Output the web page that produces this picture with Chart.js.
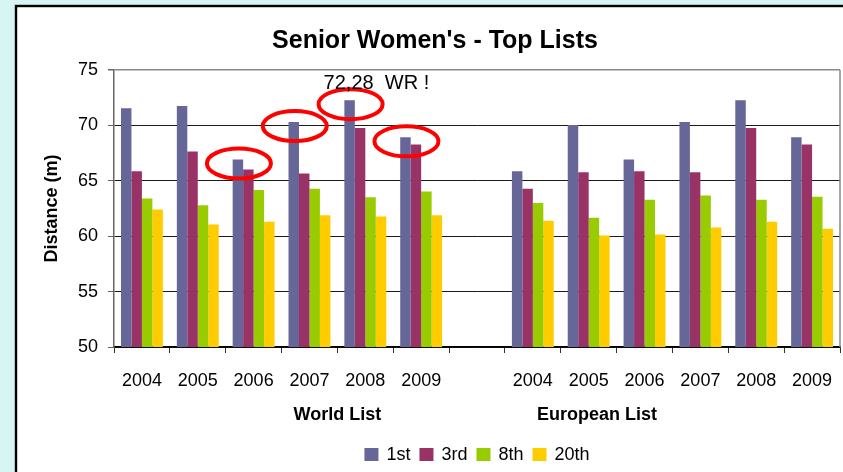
<!DOCTYPE html>
<html>
<head>
<meta charset="utf-8">
<script src="https://cdn.jsdelivr.net/npm/chart.js@4"></script>
<style>
  html, body { margin: 0; padding: 0; background: #d6f5f3; }
  canvas { display: block; }
</style>
</head>
<body>
<canvas id="chart" width="843" height="472"></canvas>
<script>
// years on the axis, blank slot splits the two lists
const labels = ['2004', '2005', '2006', '2007', '2008', '2009', '',
                '2004', '2005', '2006', '2007', '2008', '2009'];

// distances in metres (world list, gap, european list)
const first     = [71.54, 71.75, 66.92, 70.30, 72.28, 68.92, null, 65.87, 70.03, 66.92, 70.30, 72.28, 68.92];
const third     = [65.87, 67.65, 66.02, 65.66, 69.76, 68.28, null, 64.28, 65.78, 65.87, 65.78, 69.76, 68.28];
const eighth    = [63.40, 62.80, 64.16, 64.28, 63.52, 64.04, null, 63.00, 61.66, 63.29, 63.68, 63.29, 63.56];
const twentieth = [62.41, 61.06, 61.30, 61.90, 61.78, 61.90, null, 61.40, 60.06, 60.15, 60.79, 61.30, 60.67];

const seriesNames = ['1st', '3rd', '8th', '20th'];
const groupNames = ['World List', 'European List'];
const yTicks = [50, 55, 60, 65, 70, 75];

const colors = ['#666699', '#993366', '#99cc00', '#ffcc00'];
const FONT = '"Liberation Sans", Arial, sans-serif';

// panel, title, group labels, legend, red circles
const decor = {
  id: 'decor',
  beforeDraw(chart) {
    const ctx = chart.ctx;
    ctx.save();
    ctx.fillStyle = '#d6f5f3';
    ctx.fillRect(0, 0, chart.width, chart.height);
    ctx.fillStyle = '#ffffff';
    ctx.fillRect(16, 6, 900, 600);
    ctx.strokeStyle = '#000000';
    ctx.lineWidth = 2.4;
    ctx.strokeRect(16, 6, 900, 600);
    ctx.restore();
  },
  afterDraw(chart) {
    const ctx = chart.ctx;
    const area = chart.chartArea;
    const x = chart.scales.x;
    ctx.save();

    // plot border right
    ctx.strokeStyle = '#888888';
    ctx.lineWidth = 1.5;
    ctx.beginPath();
    ctx.moveTo(area.right, area.top);
    ctx.lineTo(area.right, area.bottom);
    ctx.stroke();

    // title
    ctx.fillStyle = '#000000';
    ctx.font = 'bold 25px ' + FONT;
    ctx.textAlign = 'center';
    ctx.textBaseline = 'alphabetic';
    ctx.fillText("Senior Women's - Top Lists", 435, 48);

    // group labels under the years
    ctx.font = 'bold 18px ' + FONT;
    ctx.textBaseline = 'middle';
    ctx.fillText(groupNames[0], x.getPixelForValue(3.5), 415);
    ctx.fillText(groupNames[1], x.getPixelForValue(8.15), 415);

    // legend
    ctx.font = '18px ' + FONT;
    ctx.textAlign = 'left';
    const widths = seriesNames.map(n => ctx.measureText(n).width);
    const total = widths.reduce((a, w) => a + w + 22, 0) + 9 * (seriesNames.length - 1);
    let lx = (area.left + area.right) / 2 - total / 2;
    seriesNames.forEach((n, i) => {
      ctx.fillStyle = colors[i];
      ctx.fillRect(lx, 448, 14, 13);
      ctx.fillStyle = '#000000';
      ctx.fillText(n, lx + 22, 455);
      lx += 22 + widths[i] + 9;
    });

    // red rings round the 1st-place bars 2006-2009 of the world list
    const bars = chart.getDatasetMeta(0).data;
    ctx.strokeStyle = '#ff0000';
    ctx.lineWidth = 4;
    [2, 3, 4, 5].forEach(i => {
      const b = bars[i];
      ctx.beginPath();
      ctx.ellipse(b.x + 1, b.y + 4, 32, 15, 0, 0, Math.PI * 2);
      ctx.stroke();
    });

    // world record note
    const wr = bars[4];
    ctx.fillStyle = '#000000';
    ctx.font = '20px ' + FONT;
    ctx.textBaseline = 'alphabetic';
    ctx.fillText(first[4].toFixed(2).replace('.', ',') + '  WR !', wr.x - 26, wr.y - 11);

    ctx.restore();
  }
};

new Chart(document.getElementById('chart'), {
  type: 'bar',
  data: {
    labels: labels,
    datasets: [first, third, eighth, twentieth].map((d, i) => ({
      label: seriesNames[i],
      data: d,
      backgroundColor: colors[i],
      categoryPercentage: 0.75,
      barPercentage: 1.0
    }))
  },
  options: {
    responsive: false,
    animation: false,
    devicePixelRatio: 1,
    layout: { padding: { left: 17, top: 70, right: 3, bottom: 0 } },
    plugins: {
      legend: { display: false },
      tooltip: { enabled: false }
    },
    scales: {
      x: {
        afterFit(s) {
          s.height = 125;
          s.paddingLeft = 0;
          s.paddingRight = 0;
        },
        grid: {
          display: true,
          drawOnChartArea: false,
          offset: true,
          tickLength: 6,
          color: '#333333'
        },
        border: { color: '#000000', width: 1.5 },
        ticks: {
          color: '#000000',
          font: { family: FONT, size: 18 },
          padding: 17,
          maxRotation: 0,
          autoSkip: false
        }
      },
      y: {
        min: 50,
        max: 75,
        afterFit(s) { s.width = 97; },
        afterBuildTicks(s) { s.ticks = yTicks.map(v => ({ value: v })); },
        grid: {
          color: ctx => ctx.tick && ctx.tick.value === 75 ? '#888888' : '#1a1a1a',
          lineWidth: ctx => ctx.tick && ctx.tick.value === 75 ? 1.5 : 1,
          tickLength: 6,
          tickColor: '#666666'
        },
        border: { color: '#666666', width: 1.5 },
        ticks: {
          color: '#000000',
          font: { family: FONT, size: 18 },
          padding: 10
        },
        title: {
          display: true,
          text: 'Distance (m)',
          color: '#000000',
          font: { family: FONT, size: 18, weight: 'bold' },
          padding: { top: 24, bottom: 0 }
        }
      }
    }
  },
  plugins: [decor]
});
</script>
</body>
</html>
